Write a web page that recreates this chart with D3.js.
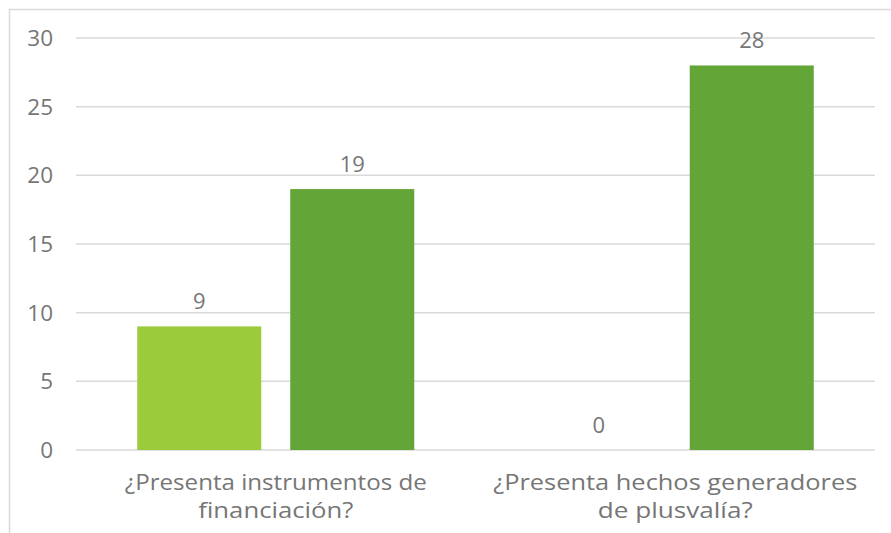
<!DOCTYPE html>
<html><head><meta charset="utf-8">
<script src="https://cdn.jsdelivr.net/npm/d3@7"></script>
<style>html,body{margin:0;padding:0;background:#fff;}svg{display:block;}</style>
</head><body>
<svg id="c" width="891" height="533"></svg>
<script>
const categories = [["¿Presenta instrumentos de", "financiación?"], ["¿Presenta hechos generadores", "de plusvalía?"]];
const seriesNames = ["Serie 1", "Serie 2"];
const series1 = [9, 0];
const series2 = [19, 28];
const yTicks = [0, 5, 10, 15, 20, 25, 30];
const colors = ["#9BCB3A", "#63A537"];

(function() {
const svg = d3.select("#c");
const font = "'Century Gothic','URW Gothic','Open Sans',sans-serif";
const txt = "#767676";
svg.append("rect").attr("x", 9.5).attr("y", 9.5).attr("width", 900).attr("height", 600)
  .attr("fill", "#fff").attr("stroke", "#d9d9d9").attr("stroke-width", 1.5);

const mL = 76, mR = 875, mT = 38, mB = 450;
const x0 = d3.scaleBand().domain(d3.range(categories.length)).range([mL, mR]).paddingInner(0).paddingOuter(0);
const y = d3.scaleLinear().domain([0, 30]).range([mB, mT]);
const bw = 124, gap = 29;

const g = svg.append("g");
g.selectAll("line.grid").data(yTicks).enter().append("line")
  .attr("x1", mL).attr("x2", mR).attr("y1", d => y(d)).attr("y2", d => y(d))
  .attr("stroke", "#d9d9d9").attr("stroke-width", 1.5);

g.selectAll("text.yt").data(yTicks).enter().append("text")
  .attr("x", 53).attr("y", d => y(d)).attr("dy", "0.35em").attr("text-anchor", "end")
  .attr("font-family", font).attr("font-size", 22.5).attr("fill", txt).text(d => d);

const data = [];
[series1, series2].forEach((s, si) => s.forEach((v, ci) => data.push({si, ci, v})));
const bx = d => x0(d.ci) + x0.bandwidth() / 2 + (d.si === 0 ? -gap / 2 - bw : gap / 2);

g.selectAll("rect.bar").data(data).enter().append("rect")
  .attr("x", bx).attr("width", bw)
  .attr("y", d => y(d.v)).attr("height", d => y(0) - y(d.v))
  .attr("fill", d => colors[d.si]);

g.selectAll("text.val").data(data).enter().append("text")
  .attr("x", d => bx(d) + bw / 2).attr("y", d => y(d.v) - 25).attr("dy", "0.35em")
  .attr("text-anchor", "middle").attr("font-family", font).attr("font-size", 22)
  .attr("fill", txt).text(d => d.v);

const widths = [[302, 155], [364, 155]];
const cl = g.selectAll("text.cat").data(categories).enter().append("text")
  .attr("text-anchor", "middle").attr("font-family", font).attr("font-size", 22).attr("fill", txt);
cl.each(function(d, i) {
  const t = d3.select(this);
  d.forEach((line, li) => t.append("tspan").attr("x", x0(i) + x0.bandwidth() / 2).attr("y", 490 + li * 28)
    .attr("textLength", widths[i][li]).attr("lengthAdjust", "spacingAndGlyphs").text(line));
});
})();
</script>
</body></html>
